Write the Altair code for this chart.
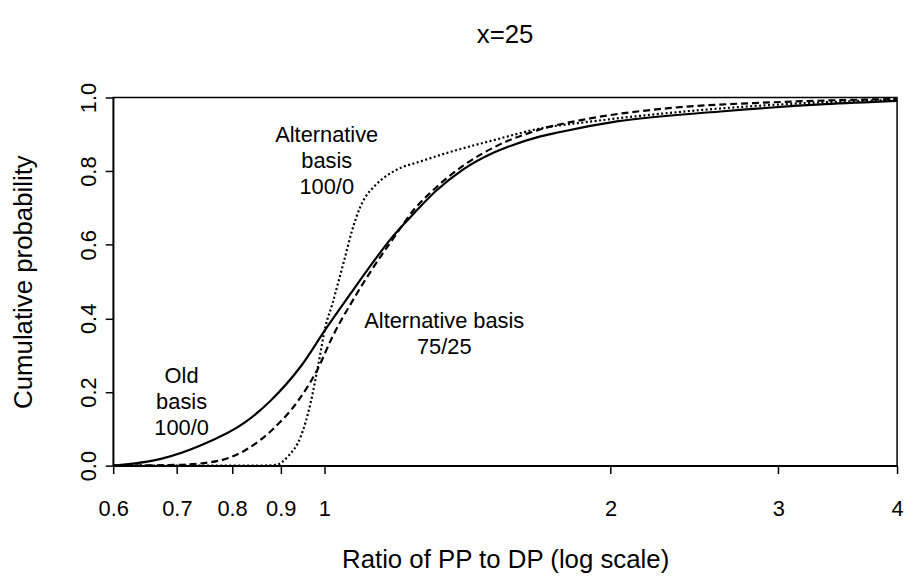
import altair as alt
import pandas as pd

# ---- data ----
old_x = [0.6, 0.675, 0.74, 0.826, 0.877, 0.945, 1.003, 1.071, 1.127, 1.18, 1.242, 1.31, 1.4, 1.5, 1.56, 1.68, 1.76, 2.03, 2.61, 3.36, 4.0]
old_y = [0.0, 0.019, 0.054, 0.118, 0.175, 0.27, 0.37, 0.475, 0.555, 0.622, 0.685, 0.746, 0.805, 0.848, 0.866, 0.893, 0.905, 0.935, 0.962, 0.982, 0.991]

alt75_x = [0.6, 0.70, 0.774, 0.826, 0.888, 0.938, 0.984, 1.02, 1.075, 1.127, 1.184, 1.242, 1.31, 1.4, 1.528, 1.68, 1.91, 2.30, 2.96, 4.0]
alt75_y = [0.0, 0.002, 0.013, 0.042, 0.105, 0.175, 0.262, 0.35, 0.455, 0.54, 0.62, 0.695, 0.755, 0.815, 0.872, 0.912, 0.944, 0.971, 0.987, 0.996]

alt100_x = [0.6, 0.85, 0.89, 0.915, 0.945, 0.967, 0.985, 1.003, 1.02, 1.035, 1.05, 1.07, 1.09, 1.105, 1.127, 1.19, 1.261, 1.344, 1.516, 1.68, 1.91, 2.30, 2.96, 4.0]
alt100_y = [0.0, 0.0, 0.002, 0.024, 0.08, 0.168, 0.27, 0.378, 0.44, 0.5, 0.56, 0.64, 0.70, 0.73, 0.757, 0.803, 0.826, 0.849, 0.886, 0.915, 0.935, 0.958, 0.98, 0.994]

ann_x = [1.006, 1.006, 1.006, 1.337, 1.337, 0.708, 0.708, 0.708]
ann_y = [0.898, 0.827, 0.757, 0.394, 0.323, 0.243, 0.1725, 0.102]
ann_text = ["Alternative", "basis", "100/0", "Alternative basis", "75/25", "Old", "basis", "100/0"]

x_ticks = [0.6, 0.7, 0.8, 0.9, 1, 2, 3, 4]
y_ticks = [0.0, 0.2, 0.4, 0.6, 0.8, 1.0]

FONT = "Liberation Sans"

rows = []
for name, xs, ys in [("old", old_x, old_y), ("alt75", alt75_x, alt75_y), ("alt100", alt100_x, alt100_y)]:
    for i, (a, b) in enumerate(zip(xs, ys)):
        rows.append({"series": name, "order": i, "ratio": a, "prob": b})
df = pd.DataFrame(rows)
ann = pd.DataFrame({"ratio": ann_x, "prob": ann_y, "label": ann_text})

xscale = alt.Scale(type="log", domain=[0.6, 4], nice=False)
yscale = alt.Scale(domain=[0, 1], nice=False, zero=False)

x_enc = alt.X(
    "ratio:Q", scale=xscale,
    axis=alt.Axis(
        values=x_ticks, format="~g", title="Ratio of PP to DP (log scale)",
        grid=False, domainColor="black", domainWidth=1.5, tickColor="black", tickWidth=1.5,
        tickSize=8, labelColor="black", labelFont=FONT, labelFontSize=22,
        labelPadding=25, labelBaseline="top", labelFlush=False, labelOverlap=False,
        titleFont=FONT, titleFontSize=26, titleFontWeight="normal", titleColor="black",
        titleBaseline="alphabetic", titleY=103, titleX=395,
    ),
)
y_enc = alt.Y(
    "prob:Q", scale=yscale,
    axis=alt.Axis(
        values=y_ticks, format=".1f", title="Cumulative probability",
        grid=False, domainColor="black", domainWidth=1.5, tickColor="black", tickWidth=1.5,
        tickSize=8, labelColor="black", labelFont=FONT, labelFontSize=22,
        labelAngle=270, labelAlign="center", labelBaseline="alphabetic", labelPadding=10,
        labelFlush=False, labelOverlap=False,
        titleFont=FONT, titleFontSize=26, titleFontWeight="normal", titleColor="black",
        titleAngle=270, titleAlign="center", titleBaseline="bottom", titleX=-77, titleY=185.5,
    ),
)

base = alt.Chart(df)

solid = base.transform_filter(alt.datum.series == "old").mark_line(
    color="black", strokeWidth=2.2, interpolate="monotone", clip=True
).encode(x=x_enc, y=y_enc, order="order:Q")

dashed = base.transform_filter(alt.datum.series == "alt75").mark_line(
    color="black", strokeWidth=2.2, strokeDash=[7, 4], interpolate="monotone", clip=True
).encode(x="ratio:Q", y="prob:Q", order="order:Q")

dotted = base.transform_filter(alt.datum.series == "alt100").mark_line(
    color="black", strokeWidth=2.2, strokeDash=[2, 2.5], interpolate="monotone", clip=True
).encode(x="ratio:Q", y="prob:Q", order="order:Q")

labels = alt.Chart(ann).mark_text(
    font=FONT, fontSize=22, color="black", align="center", baseline="middle"
).encode(x="ratio:Q", y="prob:Q", text="label:N")

chart = alt.layer(solid, dashed, dotted, labels).properties(
    width=790, height=371,
    background="white",
    title=alt.TitleParams(
        text="x=25", font=FONT, fontSize=26, fontWeight="normal", color="black",
        anchor="middle", frame="group", baseline="alphabetic", offset=14,
    ),
    autosize=alt.AutoSizeParams(type="none"),
    padding={"left": 106, "top": 88, "right": 8, "bottom": 110},
).configure_view(stroke="black", strokeWidth=1.5)

chart.save("out.html", embed_options={"renderer": "svg", "actions": False})
